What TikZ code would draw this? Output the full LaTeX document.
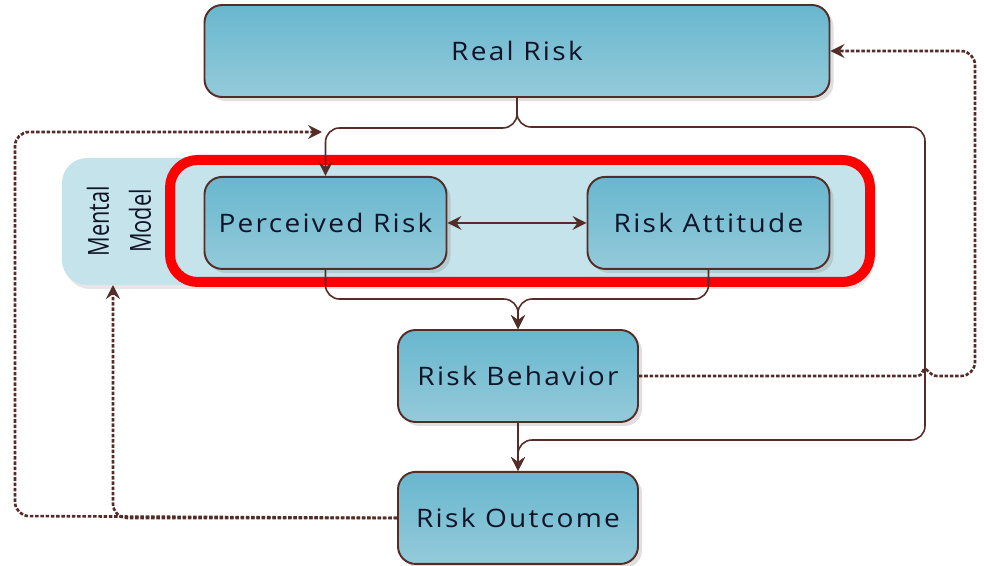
\documentclass[tikz,border=0pt]{standalone}
\usepackage{fontspec}
\setmainfont{Open Sans}[LetterSpace=9,FakeStretch=1.1]
\newfontfamily\narrowfont{Open Sans}[FakeStretch=0.75]
\usepackage{tikz}
\usetikzlibrary{positioning,arrows.meta,shadows}
\definecolor{riskBrown}{RGB}{85,45,40}
\definecolor{riskTop}{RGB}{104,183,206}
\definecolor{riskBot}{RGB}{148,202,218}
\definecolor{mentalBlue}{RGB}{197,227,234}
\definecolor{riskText}{RGB}{15,20,40}
\tikzset{
  rbox/.style={rectangle,draw=riskBrown,line width=1.1pt,rounded corners=10pt,
    top color=riskTop,bottom color=riskBot,minimum height=1.84cm,
    minimum width=#1,font=\fontsize{14.5}{17}\selectfont,text=riskText,
    drop shadow={opacity=0.25,shadow xshift=0.08cm,shadow yshift=-0.08cm}},
  rbox/.default=4.8cm,
  mental/.style={rectangle,fill=mentalBlue,rounded corners=0.5cm,
    minimum width=16.16cm,minimum height=2.54cm,
    drop shadow={opacity=0.2,shadow xshift=0.06cm,shadow yshift=-0.08cm}},
  arrow/.style={-{Stealth[length=2.8mm,width=2.8mm,inset=1mm]},
    draw=riskBrown,line width=0.9pt,rounded corners=8pt},
  twoway/.style={{Stealth[length=2.8mm,width=2.8mm,inset=1mm]}-{Stealth[length=2.8mm,width=2.8mm,inset=1mm]},
    draw=riskBrown,line width=0.9pt},
  fback/.style={-{Stealth[length=2.8mm,width=2.8mm,inset=1mm]},
    draw=riskBrown,line width=1.5pt,dash pattern=on 2pt off 1pt,rounded corners=8pt}
}
\begin{document}
\begin{tikzpicture}
  \useasboundingbox (0,0) rectangle (19.68,-11.32);
  \node[mental] (mm) at (9.32,-4.43) {};
  \node[rotate=90,align=center,font=\narrowfont\fontsize{16.5}{24}\selectfont,text=riskText]
    (mmlabel) at (2.38,-4.42) {Mental\\Model};
  \draw[red,line width=0.2cm,rounded corners=0.55cm] (3.4,-3.2) rectangle (17.4,-5.64);
  \node[rbox=12.5cm] (real) at (10.34,-1.02) {Real Risk};
  \node[rbox=4.84cm, below right=1.56cm and 0cm of real.south west] (perc) {Perceived Risk};
  \node[rbox=4.84cm, below left=1.56cm and 0cm of real.south east] (att) {Risk Attitude};
  \node[rbox] (beh) at (10.36,-7.52) {Risk Behavior};
  \node[rbox, below=0.96cm of beh] (outc) {Risk Outcome};
  \coordinate (rtop) at (18.5,-2.54);
  \coordinate (rbot) at (18.5,-8.8);
  \coordinate (hop) at (18.35,-7.52);
  \coordinate (fr) at (19.5,-7.52);
  \coordinate (fl) at (0.3,-10.32);
  \coordinate (mmin) at (2.26,-5.7);
  \coordinate (percin) at (6.44,-2.64);
  \draw[arrow] (real.south) |- ([yshift=0.96cm]perc.north) -- (perc.north);
  \draw[arrow] (real.south) |- (rtop) -- (rbot) -| (outc.north);
  \draw[twoway] (perc) -- (att);
  \draw[arrow] (perc.south) |- ([yshift=0.6cm]beh.north) -- (beh.north);
  \draw[arrow] (att.south) |- ([yshift=0.6cm]beh.north) -- (beh.north);
  \draw[arrow] (beh) -- (outc);
  \draw[fback,rounded corners=0pt] (beh.east) -- (hop)
    .. controls (18.45,-7.52) and (18.45,-7.38) .. (18.5,-7.38)
    .. controls (18.55,-7.38) and (18.6,-7.52) .. (18.75,-7.52)
    [rounded corners=8pt] -- (fr) |- (real.east);
  \draw[fback] (outc.west) -- (fl) |- (percin);
  \draw[fback] (outc.west) -| (mmin);
\end{tikzpicture}
\end{document}
